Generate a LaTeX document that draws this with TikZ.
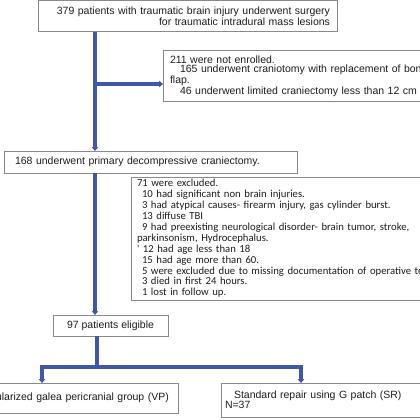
\documentclass[tikz,border=0pt]{standalone}
\usepackage{fontspec}
\setmainfont{Liberation Sans}
\newfontfamily\calfont{Carlito}
\usetikzlibrary{arrows.meta}
\definecolor{boxgray}{RGB}{138,138,138}
\definecolor{lineblue}{RGB}{62,88,165}
\definecolor{txt}{RGB}{30,30,30}
\begin{document}
\begin{tikzpicture}[x=1pt,y=-1pt,
  box/.style={draw=boxgray,line width=1pt,inner ysep=0pt,outer sep=0pt,text=txt,
    font=\fontsize{10.5}{10.8}\selectfont},
  conn/.style={draw=lineblue,line width=3.2pt,-{Triangle[length=4pt,width=6.5pt]}},
  plainline/.style={draw=lineblue,line width=3.2pt}]
\useasboundingbox (0,0) rectangle (420,420);
\clip (0,0) rectangle (420,420);
\fill[white] (0,0) rectangle (420,420);

\node[box,anchor=north west,minimum width=299pt,minimum height=31pt,text width=285pt,
  inner xsep=7pt,align=right] (b1) at (38,1)
  {379 patients with traumatic brain injury underwent surgery\\for traumatic intradural mass lesions};

\node[box,anchor=north west,minimum height=50pt,text width=300pt,inner xsep=7pt,align=left,
  font=\fontsize{10.5}{9.6}\selectfont] (b2) at (163,51)
  {211 were not enrolled.\\\hspace*{10pt}165 underwent craniotomy with replacement of bone\\flap.\\\hspace*{10pt}46 underwent limited craniectomy less than 12 cm};

\node[box,anchor=north west,minimum width=293pt,minimum height=22pt,text width=271pt,
  inner xsep=11pt,align=left] (b3) at (4,151)
  {168 underwent primary decompressive craniectomy.};

\node[box,anchor=north west,minimum height=123pt,text width=340pt,inner xsep=6pt,align=left,
  font=\calfont\fontsize{10.7}{10.9}\selectfont] (b4) at (131,177)
  {71 were excluded.\\
   \hspace*{5pt}10 had significant non brain injuries.\\
   \hspace*{5pt}3 had atypical causes- firearm injury, gas cylinder burst.\\
   \hspace*{5pt}13 diffuse TBI\\
   \hspace*{5pt}9 had preexisting neurological disorder- brain tumor, stroke,\\
   parkinsonism, Hydrocephalus.\\
   ' 12 had age less than 18\\
   \hspace*{5pt}15 had age more than 60.\\
   \hspace*{5pt}5 were excluded due to missing documentation of operative technique\\
   \hspace*{5pt}3 died in first 24 hours.\\
   \hspace*{5pt}1 lost in follow up.};

\node[box,minimum width=115pt,minimum height=21pt] (b5) at (110.5,325.5) {97 patients eligible};

\node[box,anchor=north east,minimum height=30pt,text width=200pt,inner xsep=4.5pt,align=left] (b6) at (178,383)
  {Vascularized galea pericranial group (VP)};

\node[box,anchor=north west,minimum height=34pt,text width=260pt,inner xsep=4pt,align=left,
  font=\fontsize{10.5}{10}\selectfont] (b7) at (221,383)
  {\hspace*{9pt}Standard repair using G patch (SR)\\N=37};

\coordinate (sp) at (95,0);
\coordinate (a2) at (95,84);
\coordinate (sq) at (97,367);
\coordinate (lx) at (42,367);
\coordinate (rx) at (301,367);

\draw[conn] (sp |- b1.south) -- (sp |- b3.north);
\draw[conn] (a2) -- (b2.west |- a2);
\draw[conn] (sp |- b3.south) -- (sp |- b5.north);
\draw[plainline] (sq |- b5.south) -- (sq);
\draw[conn] (sq) -| (lx |- b6.north);
\draw[conn] (sq) -| (rx |- b7.north);
\end{tikzpicture}
\end{document}
